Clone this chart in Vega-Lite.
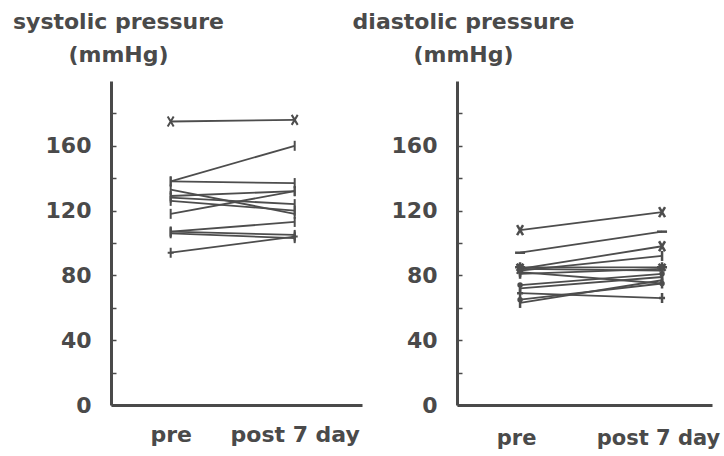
{
  "$schema": "https://vega.github.io/schema/vega-lite/v6.json",
  "autosize": {"type": "pad"},
  "padding": {"left": 12, "top": 10, "right": 5, "bottom": 5},
  "background": "white",
  "datasets": {
    "systolic": [
      {"subject": "s01", "time": "pre", "value": 175}, {"subject": "s01", "time": "post 7 day", "value": 176},
      {"subject": "s02", "time": "pre", "value": 138}, {"subject": "s02", "time": "post 7 day", "value": 160},
      {"subject": "s03", "time": "pre", "value": 138}, {"subject": "s03", "time": "post 7 day", "value": 137},
      {"subject": "s04", "time": "pre", "value": 133}, {"subject": "s04", "time": "post 7 day", "value": 118},
      {"subject": "s05", "time": "pre", "value": 129}, {"subject": "s05", "time": "post 7 day", "value": 132},
      {"subject": "s06", "time": "pre", "value": 128}, {"subject": "s06", "time": "post 7 day", "value": 124},
      {"subject": "s07", "time": "pre", "value": 126}, {"subject": "s07", "time": "post 7 day", "value": 120},
      {"subject": "s08", "time": "pre", "value": 118}, {"subject": "s08", "time": "post 7 day", "value": 132},
      {"subject": "s09", "time": "pre", "value": 107}, {"subject": "s09", "time": "post 7 day", "value": 113},
      {"subject": "s10", "time": "pre", "value": 107}, {"subject": "s10", "time": "post 7 day", "value": 105},
      {"subject": "s11", "time": "pre", "value": 106}, {"subject": "s11", "time": "post 7 day", "value": 103},
      {"subject": "s12", "time": "pre", "value": 94}, {"subject": "s12", "time": "post 7 day", "value": 104}
    ],
    "diastolic": [
      {"subject": "d01", "time": "pre", "value": 108}, {"subject": "d01", "time": "post 7 day", "value": 119},
      {"subject": "d02", "time": "pre", "value": 94}, {"subject": "d02", "time": "post 7 day", "value": 107},
      {"subject": "d03", "time": "pre", "value": 84}, {"subject": "d03", "time": "post 7 day", "value": 98},
      {"subject": "d04", "time": "pre", "value": 83}, {"subject": "d04", "time": "post 7 day", "value": 92},
      {"subject": "d05", "time": "pre", "value": 85}, {"subject": "d05", "time": "post 7 day", "value": 85},
      {"subject": "d06", "time": "pre", "value": 84}, {"subject": "d06", "time": "post 7 day", "value": 83},
      {"subject": "d07", "time": "pre", "value": 82}, {"subject": "d07", "time": "post 7 day", "value": 75},
      {"subject": "d08", "time": "pre", "value": 81}, {"subject": "d08", "time": "post 7 day", "value": 84},
      {"subject": "d09", "time": "pre", "value": 74}, {"subject": "d09", "time": "post 7 day", "value": 81},
      {"subject": "d10", "time": "pre", "value": 72}, {"subject": "d10", "time": "post 7 day", "value": 79},
      {"subject": "d11", "time": "pre", "value": 69}, {"subject": "d11", "time": "post 7 day", "value": 66},
      {"subject": "d12", "time": "pre", "value": 63}, {"subject": "d12", "time": "post 7 day", "value": 77},
      {"subject": "d13", "time": "pre", "value": 65}, {"subject": "d13", "time": "post 7 day", "value": 75}
    ]
  },
  "config": {
    "view": {"stroke": null},
    "font": "DejaVu Sans",
    "axis": {
      "domainColor": "#4a4a4a", "domainWidth": 3, "grid": false,
      "labelFont": "DejaVu Sans", "labelFontSize": 22, "labelFontWeight": "bold", "labelColor": "#4a4a4a",
      "tickColor": "#4a4a4a", "tickWidth": 1.5,
      "titleFont": "DejaVu Sans", "titleFontSize": 22, "titleFontWeight": "bold", "titleColor": "#4a4a4a"
    }
  },
  "spacing": 95,
  "bounds": "flush",
  "resolve": {"scale": {"shape": "independent"}},
  "hconcat": [
    {
      "data": {"name": "systolic"},
      "width": 251, "height": 324,
      "encoding": {
        "x": {"field": "time", "type": "nominal", "sort": ["pre", "post 7 day"],
          "scale": {"type": "point", "padding": 0.512, "align": 0.47},
          "axis": {"title": null, "ticks": false, "labelAngle": 0, "labelPadding": 19}},
        "y": {"field": "value", "type": "quantitative",
          "scale": {"domain": [0, 200], "nice": false, "zero": true},
          "axis": {"values": [0, 20, 40, 60, 80, 100, 120, 140, 160, 180],
            "labelExpr": "datum.value % 40 == 0 ? datum.label : ''",
            "tickSize": -5, "labelPadding": 25,
            "title": ["systolic pressure", "(mmHg)"], "titleAngle": 0, "titleX": 7, "titleY": -53,
            "titleAlign": "center", "titleBaseline": "alphabetic", "titleLineHeight": 33}}
      },
      "layer": [
        {"mark": {"type": "line", "color": "#4d4d4d", "strokeWidth": 1.8}, "encoding": {"detail": {"field": "subject"}}},
        {"mark": {"type": "point", "filled": false, "color": "#4d4d4d", "strokeWidth": 2, "size": 100, "opacity": 1},
          "encoding": {"shape": {"field": "subject", "type": "nominal", "legend": null,
            "scale": {"domain": ["s01","s02","s03","s04","s05","s06","s07","s08","s09","s10","s11","s12"],
              "range": ["M-0.6,-1L0.6,1M0.6,-1L-0.6,1", "M0,-1L0,1", "M0,-1L0,1", "M0,-1L0,1", "M0,-1L0,1", "M0,-1L0,1", "M0,-1L0,1", "M0,-1L0,1", "M0,-1L0,1", "M0,-1L0,1", "M0,-1L0,1", "M-0.6,0L0.6,0M0,-1L0,1"]}}}}
      ]
    },
    {
      "data": {"name": "diastolic"},
      "width": 255, "height": 324,
      "encoding": {
        "x": {"field": "time", "type": "nominal", "sort": ["pre", "post 7 day"],
          "scale": {"type": "point", "padding": 0.398, "align": 0.558},
          "axis": {"title": null, "ticks": false, "labelAngle": 0, "labelPadding": 22, "labelFontSize": 21, "labelOffset": -4}},
        "y": {"field": "value", "type": "quantitative",
          "scale": {"domain": [0, 200], "nice": false, "zero": true},
          "axis": {"values": [0, 20, 40, 60, 80, 100, 120, 140, 160, 180],
            "labelExpr": "datum.value % 40 == 0 ? datum.label : ''",
            "tickSize": -5, "labelPadding": 25,
            "title": ["diastolic pressure", "(mmHg)"], "titleAngle": 0, "titleX": 6, "titleY": -53,
            "titleAlign": "center", "titleBaseline": "alphabetic", "titleLineHeight": 33}}
      },
      "layer": [
        {"mark": {"type": "line", "color": "#4d4d4d", "strokeWidth": 1.8}, "encoding": {"detail": {"field": "subject"}}},
        {"mark": {"type": "point", "filled": false, "color": "#4d4d4d", "strokeWidth": 2.5, "size": 100, "opacity": 1},
          "encoding": {"shape": {"field": "subject", "type": "nominal", "legend": null,
            "scale": {"domain": ["d01","d02","d03","d04","d05","d06","d07","d08","d09","d10","d11","d12","d13"],
              "range": ["M-0.6,-1L0.6,1M0.6,-1L-0.6,1", "M-1,0L1,0", "M-0.6,-1L0.6,1M0.6,-1L-0.6,1", "M0,-1L0,1", "M-1,0L1,0M0,-1L0,1M-0.7,-0.7L0.7,0.7M0.7,-0.7L-0.7,0.7", "M0,-1L0,1", "M0,-1L0,1", "M0,-1L0,1", "M-0.3,0A0.3,0.3 0 1,0 0.3,0A0.3,0.3 0 1,0 -0.3,0", "M0,-1L0,1", "M-0.6,0L0.6,0M0,-1L0,1", "M0,-1L0,1", "M-0.3,0A0.3,0.3 0 1,0 0.3,0A0.3,0.3 0 1,0 -0.3,0"]}}}}
      ]
    }
  ]
}
